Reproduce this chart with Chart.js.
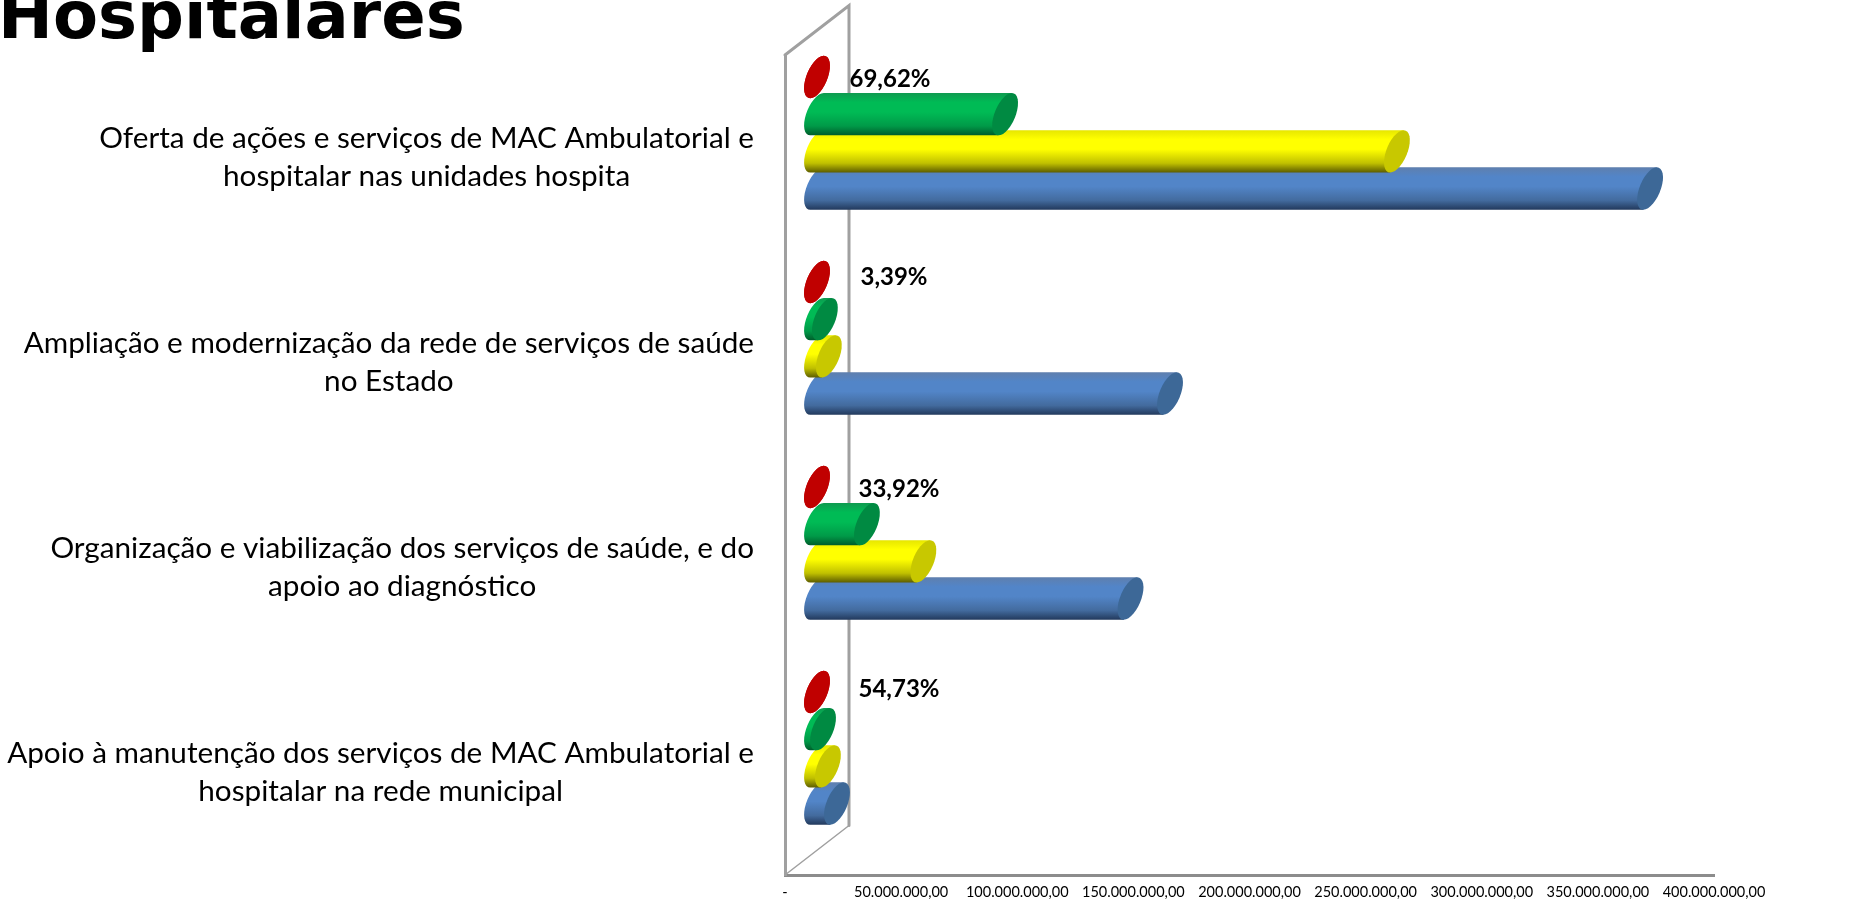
<!DOCTYPE html>
<html lang="pt-BR"><head><meta charset="utf-8">
<style>html,body{margin:0;padding:0;background:#fff}canvas{display:block}</style>
<script src="https://cdn.jsdelivr.net/npm/chart.js@4"></script>
</head><body><canvas id="c" width="1865" height="908"></canvas>
<script>
const titleText = 'Hospitalares';
const categories = [
  ['Oferta de ações e serviços de MAC Ambulatorial e','hospitalar nas unidades hospita'],
  ['Ampliação e modernização da rede de serviços de saúde','no Estado'],
  ['Organização e viabilização dos serviços de saúde, e do','apoio ao diagnóstico'],
  ['Apoio à manutenção dos serviços de MAC Ambulatorial e','hospitalar na rede municipal']
];
const redValues    = [0, 0, 0, 0];
const greenValues  = [81000000, 3400000, 21500000, 2600000];
const yellowValues = [249700000, 5100000, 45800000, 4700000];
const blueValues   = [358700000, 152000000, 135000000, 8600000];
const percentLabels = ['69,62%', '3,39%', '33,92%', '54,73%'];

const DEPTH = {x: 64, y: -49.5};
const LABEL_NUDGE = [[-9,2],[-5,-5],[0,2],[0,-3]];
const SHADES = {
  red:    {stops:['#c00000','#c00000','#c00000','#c00000'], cap:'#c00000'},
  green:  {stops:['#0f9a50','#00bb55','#009a48','#005c2b'], cap:'#008a42'},
  yellow: {stops:['#e6e600','#ffff00','#c0c000','#5c5c00'], cap:'#c8c800'},
  blue:   {stops:['#5f7fae','#5285c8','#436b9e','#22395c'], cap:'#3d6897'}
};

function formatTick(v){
  if(v===0) return '-';
  const s = String(Math.round(v)).replace(/\B(?=(\d{3})+$)/g,'.');
  return s + ',00';
}

const {BarElement} = Chart;
BarElement.prototype.draw = function(ctx){
  const {x, y, base, height} = this.getProps(['x','y','base','height']);
  const shade = SHADES[this.options.borderColor] || SHADES.blue;
  const ry = height/2, rx = 11, sk = 0.32;
  const dx = DEPTH.x/2, dy = DEPTH.y/2;
  const x0 = base+dx, x1 = x+dx, cy = y+dy;
  const tilt = sk*ry;
  const ell = (cx)=>{
    ctx.save();
    ctx.transform(1,0,-sk,1,cx,cy);
    ctx.moveTo(rx,0);
    ctx.ellipse(0,0,rx,ry,0,0,Math.PI*2);
    ctx.restore();
  };
  const g = ctx.createLinearGradient(0,cy-ry,0,cy+ry);
  g.addColorStop(0,shade.stops[0]);
  g.addColorStop(0.22,shade.stops[1]);
  g.addColorStop(0.45,shade.stops[1]);
  g.addColorStop(0.78,shade.stops[2]);
  g.addColorStop(1,shade.stops[3]);
  ctx.save();
  ctx.beginPath();
  ell(x0);
  ctx.moveTo(x0+tilt,cy-ry);
  ctx.lineTo(x1+tilt,cy-ry);
  ctx.lineTo(x1-tilt,cy+ry);
  ctx.lineTo(x0-tilt,cy+ry);
  ctx.closePath();
  ctx.fillStyle = g;
  ctx.fill();
  ctx.beginPath();
  ell(x1);
  ctx.fillStyle = shade.cap;
  ctx.fill();
  ctx.restore();
};

const scene = {
  id:'scene',
  beforeDraw(chart){
    const ctx = chart.ctx, s = chart.scales.y;
    const right = 754;
    ctx.save();
    ctx.font = Chart.helpers.toFont(s.options.ticks.font).string;
    s.getLabelItems(chart.chartArea).forEach(it=>{
      const w = Math.max(...[].concat(it.label).map(t=>ctx.measureText(t).width));
      it.options.translation = [right - w/2, it.options.translation[1]];
    });
    ctx.restore();
    ctx.save();
    ctx.fillStyle='#000';
    ctx.font='bold 65.6px "DejaVu Sans"';
    ctx.textBaseline='alphabetic';
    ctx.textAlign='left';
    ctx.fillText(titleText,-2,38);
    ctx.restore();
  },
  beforeDatasetsDraw(chart){
    const ctx = chart.ctx, a = chart.chartArea;
    ctx.save();
    ctx.strokeStyle='#a0a0a0';
    ctx.lineCap='round';
    ctx.lineWidth=3;
    ctx.beginPath();
    ctx.moveTo(a.left,a.top);
    ctx.lineTo(a.left+DEPTH.x,a.top+DEPTH.y);
    ctx.lineTo(a.left+DEPTH.x,a.bottom+DEPTH.y);
    ctx.stroke();
    ctx.lineWidth=1.5;
    ctx.beginPath();
    ctx.moveTo(a.left+DEPTH.x,a.bottom+DEPTH.y);
    ctx.lineTo(a.left,a.bottom);
    ctx.stroke();
    ctx.restore();
  },
  afterDatasetsDraw(chart){
    const ctx = chart.ctx, els = chart.getDatasetMeta(0).data;
    ctx.save();
    ctx.fillStyle='#000';
    ctx.font='bold 24px Lato';
    ctx.textAlign='center';
    ctx.textBaseline='middle';
    percentLabels.forEach((t,i)=>{
      const e = els[i];
      ctx.fillText(t, e.x+DEPTH.x/2+82+LABEL_NUDGE[i][0], e.y+DEPTH.y/2+LABEL_NUDGE[i][1]);
    });
    ctx.restore();
  }
};

const ds = (label,data,key)=>({label,data,borderColor:key,backgroundColor:SHADES[key].stops[1],clip:false,
  categoryPercentage:0.726,barPercentage:1.14});

new Chart(document.getElementById('c'),{
  type:'bar',
  data:{labels:categories,datasets:[
    ds('Vermelho',redValues,'red'),
    ds('Verde',greenValues,'green'),
    ds('Amarelo',yellowValues,'yellow'),
    ds('Azul',blueValues,'blue')
  ]},
  plugins:[scene],
  options:{
    indexAxis:'y',responsive:false,animation:false,
    layout:{padding:{top:55,right:151,left:0,bottom:0}},
    plugins:{legend:{display:false},tooltip:{enabled:false},title:{display:false}},
    scales:{
      x:{min:0,max:400000000,
        afterFit(s){s.height=33;},
        grid:{display:false,drawTicks:false},
        border:{display:true,color:'#8c8c8c',width:3},
        ticks:{stepSize:50000000,maxRotation:0,autoSkip:false,padding:9,color:'#000',
          font:{family:'Lato',size:14.5},callback:formatTick}},
      y:{
        afterFit(s){s.width=785;s.paddingTop=0;s.paddingBottom=0;},
        grid:{display:false,drawTicks:false},
        border:{display:true,color:'#a0a0a0',width:3},
        ticks:{autoSkip:false,crossAlign:'center',color:'#000',padding:0,
          font:{family:'Lato',size:29.7,lineHeight:'38.5px'}}}
    }
  }
});
</script></body></html>
